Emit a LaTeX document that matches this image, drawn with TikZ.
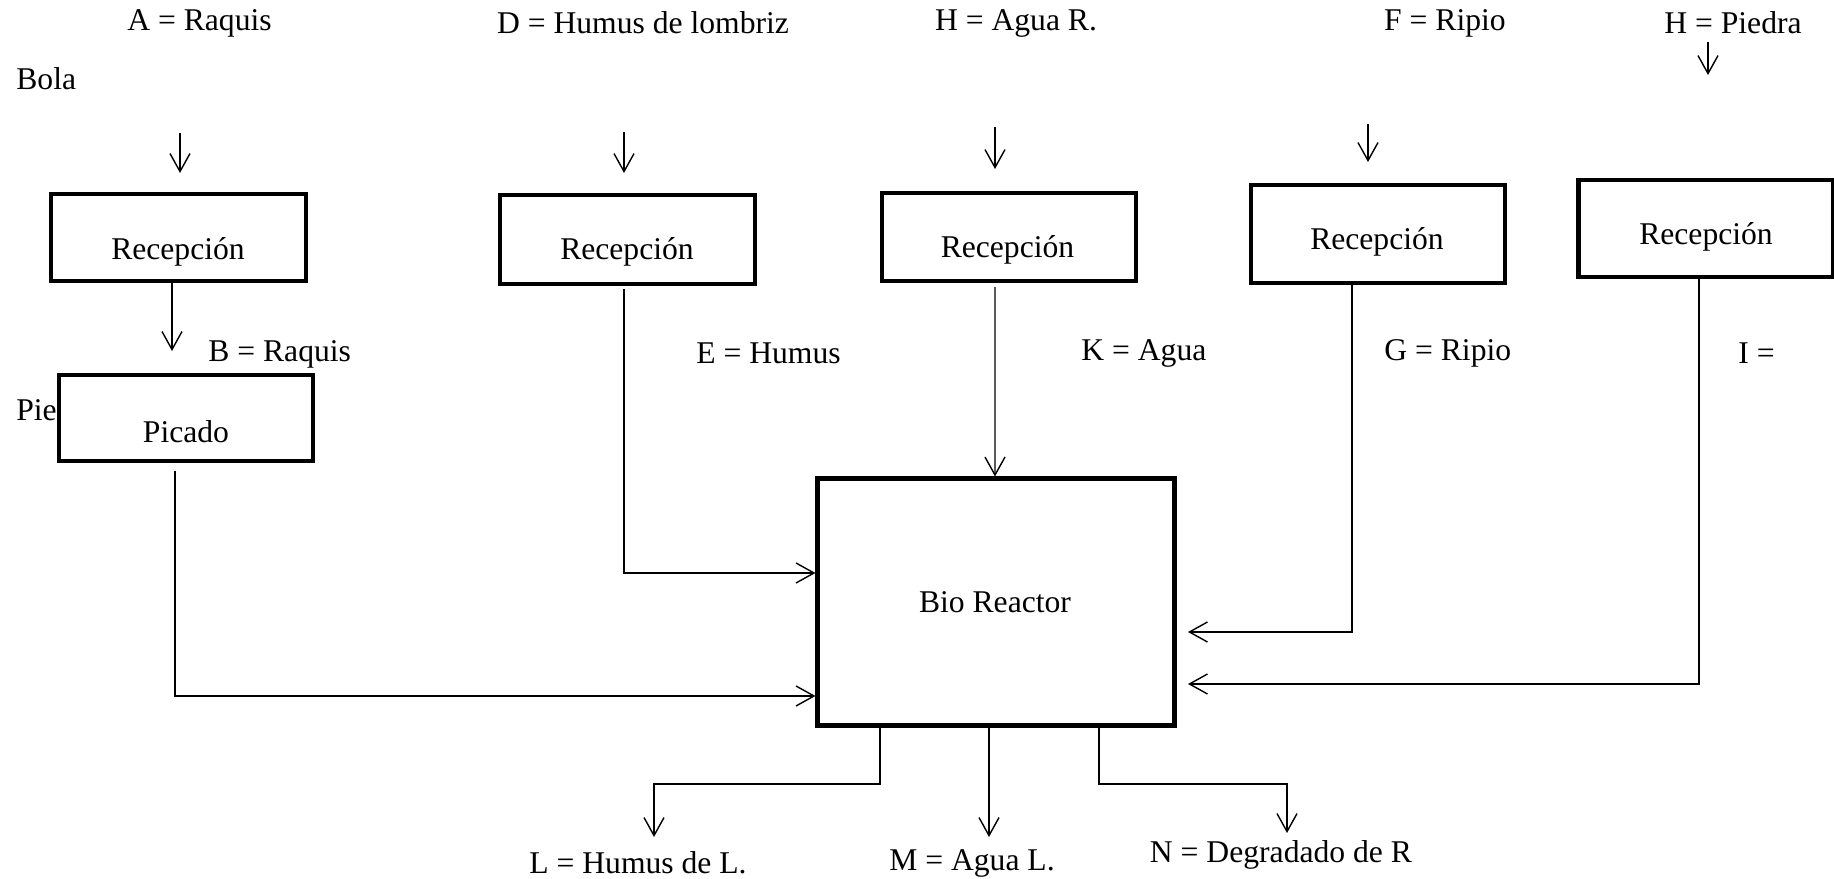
\documentclass[tikz,border=0pt]{standalone}
\usepackage{fontspec}
\setmainfont{Liberation Serif}
\usetikzlibrary{arrows.meta}

\begin{document}
\begin{tikzpicture}[caja/.style={rectangle,draw,line width=2.3pt,minimum width=5.08cm,minimum height=1.76cm,inner sep=0pt},
txt/.style={font=\fontsize{18}{21}\selectfont,inner sep=0pt},
flecha/.style={-{Straight Barb[length=3.6mm,width=4mm]},line width=0.8pt}]
\useasboundingbox (0,0) rectangle (36.68,17.58);

% cajas
\path
(3.57,12.83) node [caja,minimum width=5.10cm,minimum height=1.74cm] (rec1) {}
(3.72,9.22) node [caja,minimum height=1.72cm] (pic) {}
(12.55,12.79) node [caja,minimum width=5.10cm,minimum height=1.78cm] (rec2) {}
(20.18,12.84) node [caja] (rec3) {}
(27.56,12.90) node [caja,minimum height=1.96cm] (rec4) {}
(34.12,13.01) node [caja,minimum width=5.10cm,minimum height=1.94cm] (rec5) {}
(19.92,5.54) node [caja,minimum width=7.14cm,minimum height=4.94cm] (bio) {}
;

% textos de las cajas
\path
(3.56,12.54) node [txt] (trec1) {Recepción}
(3.72,8.94) node [txt] (tpic) {Picado}
(12.54,12.54) node [txt] (trec2) {Recepción}
(20.15,12.58) node [txt] (trec3) {Recepción}
(27.54,12.74) node [txt] (trec4) {Recepción}
(34.12,12.84) node [txt] (trec5) {Recepción}
(19.90,5.54) node [txt] (tbio) {Bio Reactor}
;

% entradas
\path
(3.99,17.12) node [txt] (inA) {A = Raquis}
(0.32,16.00) node [txt,anchor=west] (bola) {Bola}
(12.86,17.12) node [txt] (inD) {D = Humus de lombriz}
(20.32,17.12) node [txt] (inH) {H = Agua R.}
(28.90,17.12) node [txt] (inF) {F = Ripio}
(34.66,17.12) node [txt] (inP) {H = Piedra}
(4.16,10.50) node [txt,anchor=west] (lbB) {B = Raquis}
(0.32,9.38) node [txt,anchor=west] (pie) {Pie}
(13.92,10.52) node [txt,anchor=west] (lbE) {E = Humus}
(21.62,10.52) node [txt,anchor=west] (lbK) {K = Agua}
(27.68,10.52) node [txt,anchor=west] (lbG) {G = Ripio}
(34.76,10.52) node [txt,anchor=west] (lbI) {I =}
;

% salidas
\path
(12.76,0.32) node [txt] (outL) {L = Humus de L.}
(19.44,0.32) node [txt] (outM) {M = Agua L.}
(25.62,0.48) node [txt] (outN) {N = Degradado de R}
;

\coordinate (eA) at (3.60,14.92);
\coordinate (eD) at (12.48,14.94);
\coordinate (eH) at (19.90,15.04);
\coordinate (eF) at (27.36,15.10);
\coordinate (eP) at (34.16,16.74);
\coordinate (sL) at (13.08,0.84);
\coordinate (sM) at (19.78,0.84);
\coordinate (sN) at (25.74,0.92);

\draw[flecha] (eA) -- ++(0,-0.80);
\draw[flecha] (eD) -- ++(0,-0.82);
\draw[flecha] (eH) -- ++(0,-0.84);
\draw[flecha] (eF) -- ++(0,-0.76);
\draw[flecha] (eP) -- ++(0,-0.66);

\draw[flecha] ([xshift=-0.13cm]rec1.south) -- ([xshift=-0.28cm,yshift=0.44cm]pic.north);
\draw[flecha] ([xshift=-0.22cm,yshift=-0.15cm]pic.south) |- ([yshift=-1.88cm]bio.west);
\draw[flecha] ([xshift=-0.07cm,yshift=-0.06cm]rec2.south) |- ([yshift=0.58cm]bio.west);
\draw[flecha] ([xshift=-0.28cm,yshift=-0.08cm]rec3.south) -- ([xshift=-0.02cm]bio.north);
\draw[flecha] ([xshift=-0.52cm]rec4.south) |- ([xshift=0.23cm,yshift=-0.60cm]bio.east);
\draw[flecha] ([xshift=-0.14cm]rec5.south) |- ([xshift=0.23cm,yshift=-1.64cm]bio.east);

% salidas del reactor
\draw[flecha] ([xshift=-2.32cm]bio.south) |- ([yshift=1.06cm]sL) -- (sL);
\draw[flecha] ([xshift=-0.14cm]bio.south) -- (sM);
\draw[flecha] ([xshift=2.06cm]bio.south) |- ([yshift=0.98cm]sN) -- (sN);

\end{tikzpicture}
\end{document}
